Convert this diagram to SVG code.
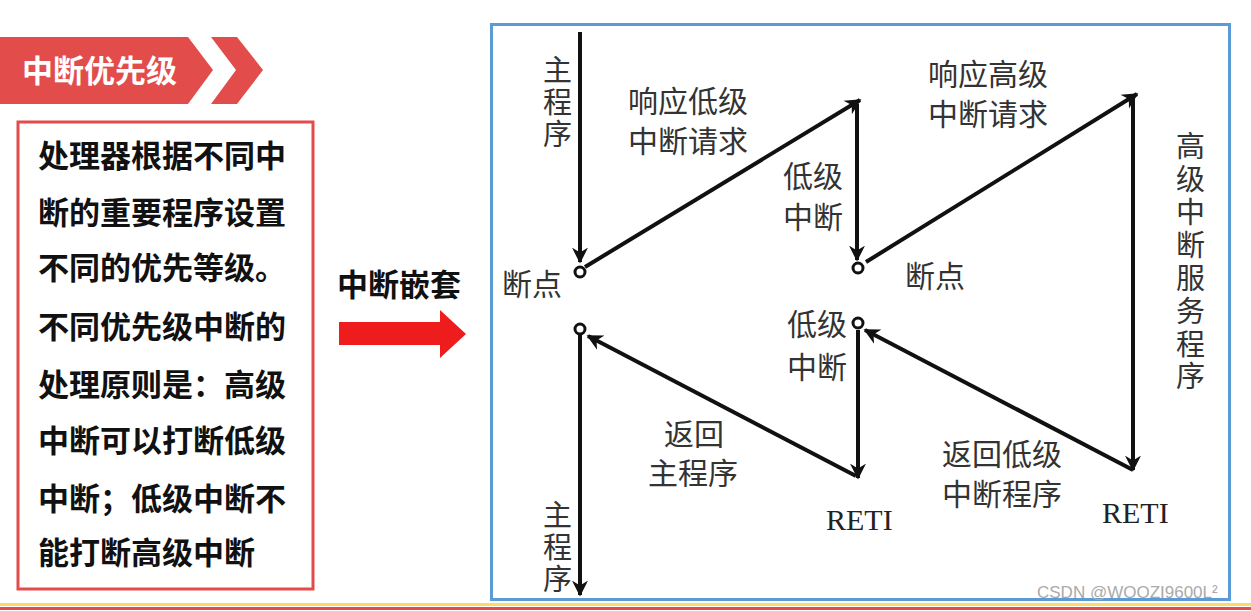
<svg xmlns="http://www.w3.org/2000/svg" width="1251" height="611" viewBox="0 0 1251 611">
<style>
.b{font-family:"Noto Sans CJK SC","Liberation Sans",sans-serif;font-weight:bold;fill:#111;font-size:31px}
.l{font-family:"Noto Sans CJK SC","Liberation Sans",sans-serif;fill:#333;font-size:30px}
.v{font-family:"Noto Sans CJK SC","Liberation Sans",sans-serif;fill:#333;font-size:29px}
.r{font-family:"Liberation Serif",serif;fill:#222;font-size:30px}
.ln{stroke:#111;stroke-width:4;fill:none;marker-end:url(#ah)}
.c{fill:#fff;stroke:#111;stroke-width:3}
</style>
<defs>
<marker id="ah" viewBox="0 0 10 10" refX="9" refY="5" markerWidth="4" markerHeight="5" orient="auto" markerUnits="strokeWidth">
<path d="M0,0 L10,5 L0,10 L3,5 z" fill="#111"/>
</marker>
</defs>
<rect width="1251" height="611" fill="#fff"/>
<g id="banner">
<polygon points="0,37 188,37 213,70 188,104 0,104" fill="#e24d4b"/>
<polygon points="211,37 237,37 263,70 237,104 211,104 236,70" fill="#e24d4b"/>
<text x="22" y="82" font-family="Noto Sans CJK SC,sans-serif" font-weight="bold" font-size="31" fill="#fff">中断优先级</text>
</g>
<g id="desc">
<rect x="18" y="122" width="295" height="467" fill="#fff" stroke="#e24d4b" stroke-width="3"/>
<text class="b" x="38" y="167">处理器根据不同中</text>
<text class="b" x="38" y="224">断的重要程序设置</text>
<text class="b" x="38" y="279">不同的优先等级。</text>
<text class="b" x="38" y="338">不同优先级中断的</text>
<text class="b" x="38" y="396">处理原则是：高级</text>
<text class="b" x="38" y="452">中断可以打断低级</text>
<text class="b" x="38" y="510">中断；低级中断不</text>
<text class="b" x="38" y="564">能打断高级中断</text>
</g>
<g id="nest">
<text class="b" x="337" y="296" font-size="28">中断嵌套</text>
<polygon points="339,322 440,322 440,310 466,334 440,358 440,345 339,345" fill="#ee1c1c"/>
</g>
<rect id="frame" x="491.5" y="24.5" width="738" height="575" fill="none" stroke="#5b9bd5" stroke-width="3"/>
<g id="connectors">
<line class="ln" x1="580" y1="32" x2="580" y2="262"/>
<line class="ln" x1="585" y1="267" x2="860" y2="100"/>
<line class="ln" x1="857" y1="104" x2="857" y2="260"/>
<line class="ln" x1="866" y1="262" x2="1137" y2="94"/>
<line class="ln" x1="1133" y1="96" x2="1133" y2="470"/>
<line class="ln" x1="1133" y1="470" x2="865" y2="330"/>
<line class="ln" x1="858" y1="330" x2="858" y2="478"/>
<line class="ln" x1="856" y1="476" x2="588" y2="336"/>
<line class="ln" x1="580" y1="335" x2="580" y2="595"/>
</g>
<g id="points">
<circle class="c" cx="580" cy="272" r="5"/>
<circle class="c" cx="858" cy="268" r="5"/>
<circle class="c" cx="858" cy="323" r="5"/>
<circle class="c" cx="580" cy="329" r="5"/>
</g>
<g id="labels">
<text class="v" x="543" y="81">主</text><text class="v" x="543" y="113">程</text><text class="v" x="543" y="145">序</text>
<text class="l" x="628" y="112">响应低级</text><text class="l" x="628" y="152">中断请求</text>
<text class="l" x="783" y="187">低级</text><text class="l" x="783" y="228">中断</text>
<text class="l" x="502" y="295">断点</text>
<text class="l" x="928" y="85">响应高级</text><text class="l" x="928" y="125">中断请求</text>
<text class="l" x="905" y="287">断点</text>
<text class="v" x="1176" y="157">高</text><text class="v" x="1176" y="190">级</text><text class="v" x="1176" y="223">中</text><text class="v" x="1176" y="256">断</text><text class="v" x="1176" y="289">服</text><text class="v" x="1176" y="322">务</text><text class="v" x="1176" y="355">程</text><text class="v" x="1176" y="387">序</text>
<text class="l" x="787" y="335">低级</text><text class="l" x="787" y="378">中断</text>
<text class="l" x="664" y="445">返回</text><text class="l" x="648" y="484">主程序</text>
<text class="l" x="942" y="465">返回低级</text><text class="l" x="942" y="505">中断程序</text>
<text class="r" x="826" y="530">RETI</text>
<text class="r" x="1102" y="523">RETI</text>
<text class="v" x="543" y="526">主</text><text class="v" x="543" y="558">程</text><text class="v" x="543" y="590">序</text>
</g>
<text x="1037" y="598" font-family="Liberation Sans,sans-serif" font-size="17" fill="#aaa">CSDN @WOOZI9600L²</text>
<rect x="0" y="603" width="1251" height="3" fill="#ffd966"/>
<rect x="0" y="607" width="1251" height="3" fill="#e24d4b"/>
</svg>
